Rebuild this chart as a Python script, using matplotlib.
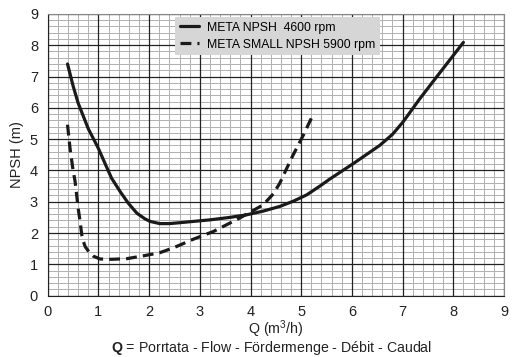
import matplotlib.pyplot as plt
from matplotlib.ticker import MultipleLocator

plt.rcParams['font.family'] = ['Liberation Sans', 'DejaVu Sans']
plt.rcParams['mathtext.fontset'] = 'custom'
plt.rcParams['mathtext.rm'] = 'Liberation Sans'
plt.rcParams['mathtext.it'] = 'Liberation Sans:italic'
plt.rcParams['mathtext.bf'] = 'Liberation Sans:bold'

# META NPSH 4600 rpm
q_meta = [0.39, 0.50, 0.60, 0.80, 1.00, 1.13, 1.26, 1.43, 1.59, 1.76, 1.92, 2.02,
          2.21, 2.40, 2.61, 2.87, 3.20, 3.60, 3.92, 4.25, 4.58, 4.85, 5.11, 5.37,
          5.57, 6.03, 6.55, 6.80, 7.01, 7.34, 7.74, 8.20]
npsh_meta = [7.40, 6.70, 6.15, 5.33, 4.70, 4.22, 3.75, 3.32, 2.95, 2.63, 2.45, 2.37,
             2.30, 2.30, 2.33, 2.37, 2.42, 2.50, 2.58, 2.70, 2.85, 3.02, 3.22, 3.50,
             3.73, 4.22, 4.80, 5.15, 5.55, 6.29, 7.13, 8.09]

# META SMALL NPSH 5900 rpm
q_small = [0.39, 0.44, 0.50, 0.54, 0.60, 0.64, 0.67, 0.70, 0.74, 0.82, 0.90, 1.03,
           1.26, 1.56, 1.92, 2.21, 2.50, 2.87, 3.27, 3.79, 4.25, 4.45, 4.58, 4.71,
           4.84, 5.04, 5.21]
npsh_small = [5.46, 4.70, 4.00, 3.64, 2.79, 2.35, 1.95, 1.74, 1.56, 1.38, 1.26, 1.17,
              1.16, 1.18, 1.28, 1.37, 1.54, 1.80, 2.05, 2.48, 2.90, 3.25, 3.60, 4.05,
              4.49, 5.12, 5.70]

fig = plt.figure(figsize=(5.19, 3.57), dpi=100)
rect = [0.092, 0.172, 0.879, 0.789]

# fine grid on a back axes so it never cuts the heavy grid lines
ax_bg = fig.add_axes(rect)
ax_bg.set_xlim(0, 9)
ax_bg.set_ylim(0, 9)
ax_bg.xaxis.set_minor_locator(MultipleLocator(0.2))
ax_bg.yaxis.set_minor_locator(MultipleLocator(0.2))
ax_bg.grid(True, which='minor', color='#b0b0b0', lw=0.7)
ax_bg.tick_params(which='both', length=0, labelbottom=False, labelleft=False)
for s in ax_bg.spines.values():
    s.set_visible(False)

ax = fig.add_axes(rect, sharex=ax_bg, sharey=ax_bg)
ax.patch.set_visible(False)
ax.plot(q_meta, npsh_meta, color='#1a1a1a', lw=2.3, solid_capstyle='round',
        solid_joinstyle='round', label='META NPSH  4600 rpm')
ax.plot(q_small, npsh_small, color='#1a1a1a', lw=2.3, dashes=(3.4, 1.9),
        label='META SMALL NPSH 5900 rpm')

ax.xaxis.set_major_locator(MultipleLocator(1))
ax.yaxis.set_major_locator(MultipleLocator(1))
ax.grid(True, which='major', color='#222222', lw=0.9)
ax.set_axisbelow(True)
ax.tick_params(which='both', length=0, labelsize=10.5, colors='#222222')
ax.tick_params(axis='x', pad=6.5)
ax.tick_params(axis='y', pad=7)
for s in ['left', 'bottom']:
    ax.spines[s].set_color('#222222')
for s in ['top', 'right']:
    ax.spines[s].set_color('#888888')

ax.set_ylabel('NPSH (m)', fontsize=10.5, color='#222222', labelpad=4)
ax.set_xlabel('Q (m$^3$/h)', fontsize=10.3, color='#222222', labelpad=0)
fig.text(0.524, 0.001, r'$\mathbf{Q}$ = Porrtata - Flow - Fördermenge - Débit - Caudal',
         ha='center', va='bottom', fontsize=10.2, color='#222222')

leg = ax.legend(loc='upper left', bbox_to_anchor=(0.279, 0.99), fontsize=8.8,
                frameon=True, fancybox=False, framealpha=1, handlelength=1.6,
                borderaxespad=0, borderpad=0.4, labelspacing=0.4, handletextpad=0.6)
leg.get_frame().set_facecolor('#d6d6d6')
leg.get_frame().set_edgecolor('none')

fig.savefig('out.png', dpi=100)
